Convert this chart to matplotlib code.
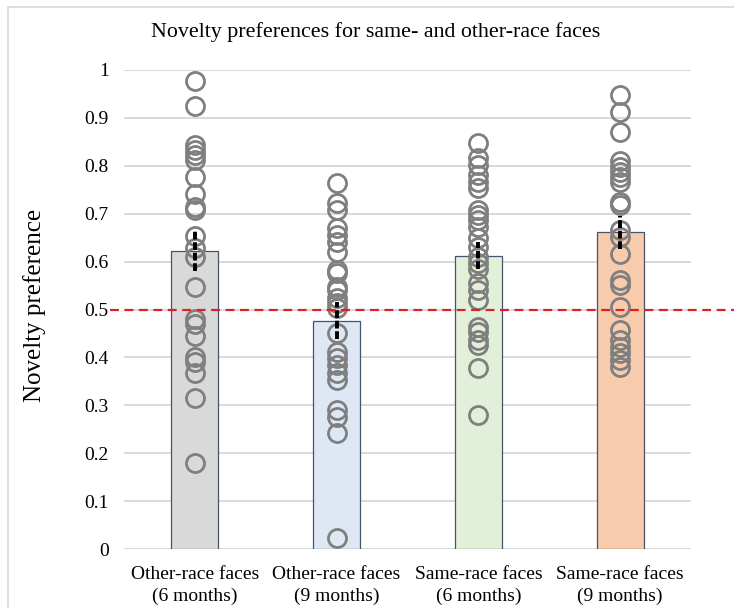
import matplotlib
matplotlib.use("Agg")
import matplotlib.pyplot as plt
import matplotlib.transforms as mtransforms
from matplotlib.lines import Line2D
from matplotlib.patches import Rectangle
import numpy as np

categories = ["Other-race faces\n(6 months)", "Other-race faces\n(9 months)",
              "Same-race faces\n(6 months)", "Same-race faces\n(9 months)"]
means = [0.623, 0.477, 0.612, 0.661]
sems = [0.043, 0.039, 0.028, 0.035]
bar_colors = ["#D9D9D9", "#DEE8F5", "#E2F0D9", "#F8CBAD"]

other_6 = [0.978, 0.925, 0.843, 0.833, 0.822, 0.812, 0.776, 0.741, 0.715, 0.708,
           0.654, 0.628, 0.610, 0.546, 0.480, 0.470, 0.445, 0.400, 0.390, 0.367,
           0.315, 0.180]
other_9 = [0.765, 0.722, 0.708, 0.670, 0.656, 0.640, 0.621, 0.582, 0.576, 0.548,
           0.540, 0.524, 0.513, 0.503, 0.451, 0.412, 0.399, 0.384, 0.367, 0.353,
           0.290, 0.276, 0.242, 0.022]
same_6 = [0.848, 0.816, 0.802, 0.781, 0.767, 0.753, 0.708, 0.697, 0.687, 0.673,
          0.649, 0.631, 0.610, 0.597, 0.585, 0.555, 0.540, 0.520, 0.464, 0.454,
          0.436, 0.426, 0.377, 0.280]
same_9 = [0.948, 0.913, 0.871, 0.809, 0.798, 0.788, 0.777, 0.767, 0.725, 0.718,
          0.666, 0.652, 0.615, 0.562, 0.551, 0.506, 0.457, 0.436, 0.422, 0.409,
          0.395, 0.379]
points = [other_6, other_9, same_6, same_9]
chance = 0.5
yticks = [0, 0.1, 0.2, 0.3, 0.4, 0.5, 0.6, 0.7, 0.8, 0.9, 1]
ytick_labels = ["0", "0.1", "0.2", "0.3", "0.4", "0.5", "0.6", "0.7", "0.8", "0.9", "1"]

plt.rcParams['font.family'] = ['Liberation Serif', 'DejaVu Serif']

W, H = 734, 608
fig = plt.figure(figsize=(W / 100, H / 100), dpi=100)
ax = fig.add_axes([124 / W, 1 - 549 / H, (691 - 124) / W, (549 - 70) / H])

x = np.arange(len(categories))
ax.bar(x, means, width=0.33, color=bar_colors, edgecolor="#44546A", linewidth=0.9, zorder=2)

for i, vals in enumerate(points):
    ax.plot([x[i]] * len(vals), vals, linestyle="none", marker="o", markersize=13,
            markerfacecolor="none", markeredgecolor="#7F7F7F", markeredgewidth=2.0,
            zorder=3, clip_on=False)

for i in range(len(categories)):
    ax.plot([x[i], x[i]], [means[i] - sems[i], means[i] + sems[i]], color="black",
            linewidth=2.8, linestyle=(0, (2.0, 0.7)), zorder=4, solid_capstyle="butt")

ax.set_xlim(-0.5, len(categories) - 0.5)
ax.set_ylim(0, 1)
ax.set_yticks(yticks)
ax.set_yticklabels(ytick_labels)
ax.set_xticks(x)
ax.set_xticklabels(categories, linespacing=1.35)
ax.tick_params(axis="both", length=0, labelsize=14, colors="black")
ax.tick_params(axis="y", pad=11)
ax.tick_params(axis="x", pad=12)
for s in ax.spines.values():
    s.set_visible(False)
ax.yaxis.grid(True, color="#D9D9D9", linewidth=1.4, zorder=0)
ax.set_axisbelow(True)

# chance line extending to the right edge
trans = mtransforms.blended_transform_factory(fig.transFigure, ax.transData)
fig.add_artist(Line2D([110 / W, 1.0], [chance, chance], transform=trans,
                      color="#E02020", linewidth=1.6, linestyle=(0, (4, 2.5)), zorder=5))

# outer chart frame
fig.add_artist(Rectangle((8 / W, -0.1), 2, 1 - 7 / H + 0.1, transform=fig.transFigure,
                         fill=False, edgecolor="#D9D9D9", linewidth=1.2))

fig.text(376 / W, 1 - 32 / H, "Novelty preferences for same- and other-race faces",
         ha="center", va="center", fontsize=15.8)
fig.text(35 / W, 1 - 305 / H, "Novelty preference", ha="center", va="center",
         rotation=90, fontsize=18)

fig.savefig("out.png", dpi=100)
